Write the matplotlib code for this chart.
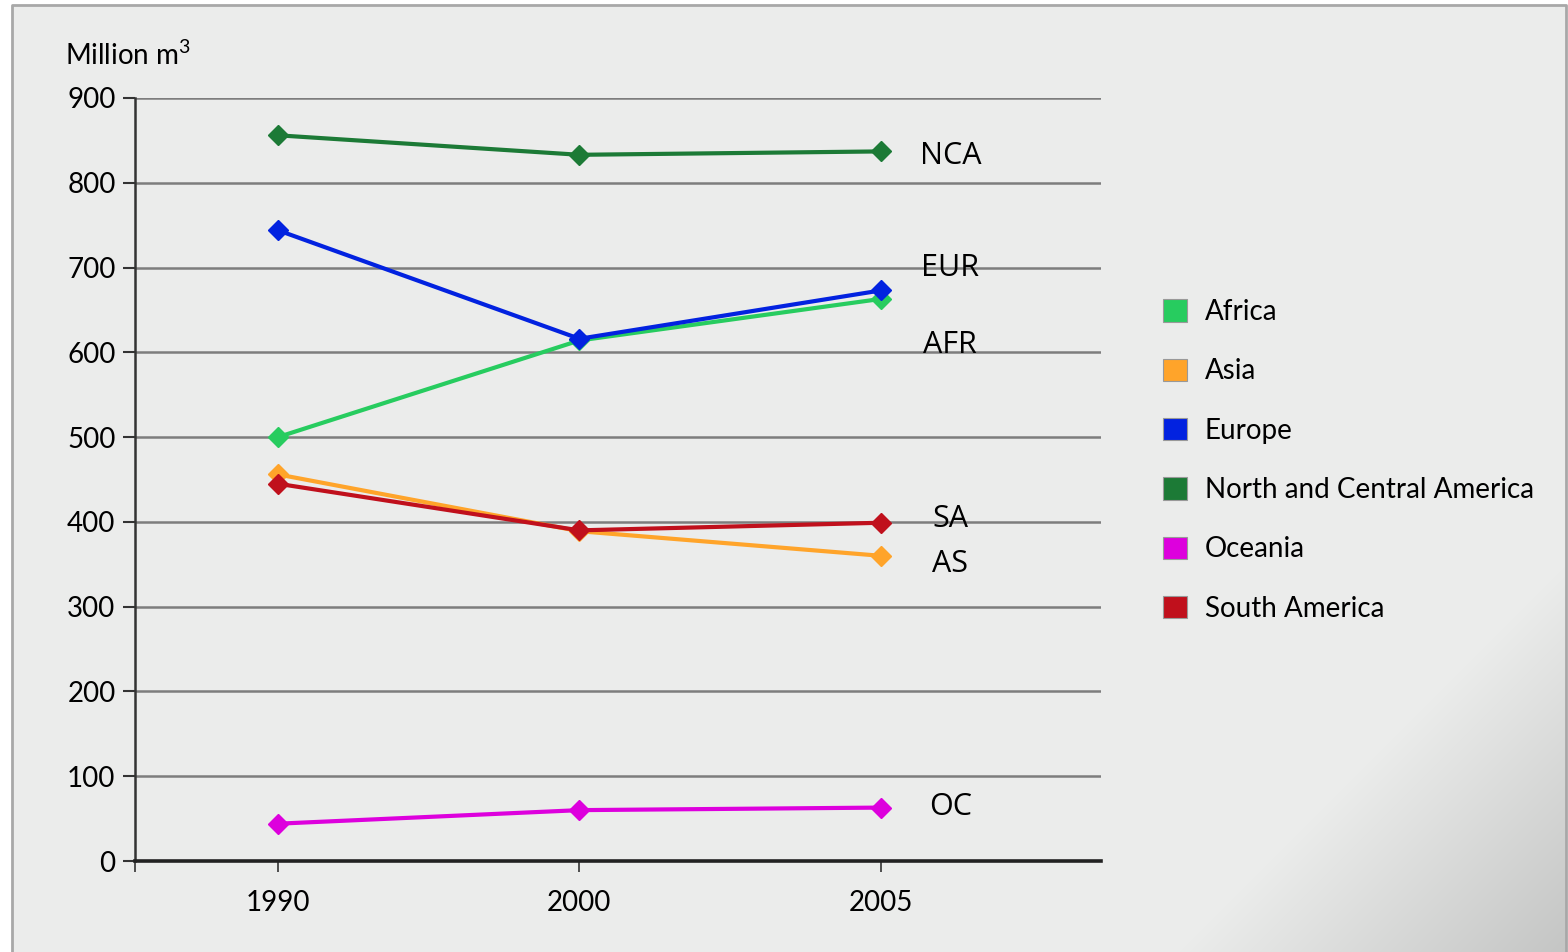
import numpy as np
import matplotlib.pyplot as plt
from matplotlib.patches import Patch

years = ["1990", "2000", "2005"]

regions = ["Africa", "Asia", "Europe", "North and Central America", "Oceania", "South America"]
africa = [500, 614, 663]
asia = [456, 389, 360]
europe = [744, 616, 673]
nca = [856, 833, 837]
oceania = [44, 60, 63]
south_america = [445, 390, 399]

short_names = ["AFR", "AS", "EUR", "NCA", "OC", "SA"]
# where the short labels sit (value axis)
label_y = [609, 350, 699, 832, 64, 403]

colors = ["#27cc5f", "#ffa42a", "#0222e0", "#1c7a36", "#dd00dd", "#c0101c"]

series = [africa, asia, europe, nca, oceania, south_america]

plt.rcParams["font.family"] = ["Lato", "DejaVu Sans"]
plt.rcParams["mathtext.fontset"] = "custom"
plt.rcParams["mathtext.rm"] = "Lato"

W, H = 1568, 952
fig = plt.figure(figsize=(W / 100, H / 100), dpi=100)
fig.patch.set_facecolor("white")

# panel background: light grey with a soft shadow toward the bottom-right corner
bg_ax = fig.add_axes([0, 0, 1, 1], zorder=-20)
bg_ax.set_axis_off()
px, py = np.meshgrid(np.arange(W), np.arange(H))
shade = np.clip((px + py - 2130) / 390.0, 0, 1)
base = np.array([0xeb, 0xec, 0xeb]) / 255
dark = np.array([0xc4, 0xc5, 0xc4]) / 255
img = base * (1 - shade[..., None]) + dark * shade[..., None]
inside = (px >= 12) & (px <= 1566) & (py >= 5)
img[~inside] = 1.0
bg_ax.imshow(img, extent=(0, W, H, 0), aspect="auto", interpolation="bilinear")
bg_ax.set_xlim(0, W)
bg_ax.set_ylim(H, 0)
bg_ax.plot([12, 12, 1566, 1566], [H, 5, 5, H], color="#a8a8a8", linewidth=2)

ax = fig.add_axes([135 / W, 1 - 861 / H, (1101 - 135) / W, (861 - 98) / H])
ax.set_facecolor("none")

x = list(range(len(years)))
for vals, col, name in zip(series, colors, regions):
    ax.plot(x, vals, color=col, linewidth=3.0, marker="D", markersize=10.5,
            markeredgecolor=col, label=name, zorder=3)

for short, ly in zip(short_names, label_y):
    ax.text(2.23, ly, short, fontsize=22, family=["Open Sans", "DejaVu Sans"],
            fontweight="medium", ha="center", va="center", color="black", zorder=4)

ax.set_xlim(-0.474, 2.73)
ax.set_ylim(0, 900)
ax.set_yticks(range(0, 901, 100))
ax.set_xticks(x)
ax.set_xticklabels(years)
ax.set_xticks([-0.474], minor=True)

ax.grid(axis="y", color="#7d7d7d", linewidth=1.8, zorder=1)
ax.set_axisbelow(True)

for s in ["top", "right"]:
    ax.spines[s].set_visible(False)
ax.spines["left"].set_color("#333333")
ax.spines["left"].set_linewidth(1.8)
ax.spines["bottom"].set_color("#222222")
ax.spines["bottom"].set_linewidth(2.6)

ax.tick_params(axis="y", length=9, width=1.5, pad=5, labelsize=20, color="#333333")
ax.tick_params(axis="x", which="both", length=8, width=1.2, pad=13, labelsize=20,
               color="#333333")

fig.text(65 / W, 1 - 55 / H, "Million m$^{3}$", fontsize=20, ha="left", va="center")

handles = [Patch(facecolor=c, edgecolor="#999999", linewidth=0.8) for c in colors]
leg = fig.legend(handles, regions, loc="upper left",
                 bbox_to_anchor=(1152 / W, 1 - 288 / H), frameon=False,
                 fontsize=20, handlelength=0.85, handleheight=0.85,
                 handletextpad=0.65, labelspacing=1.2, borderaxespad=0)

fig.savefig("out.png", dpi=100, facecolor=fig.get_facecolor())
